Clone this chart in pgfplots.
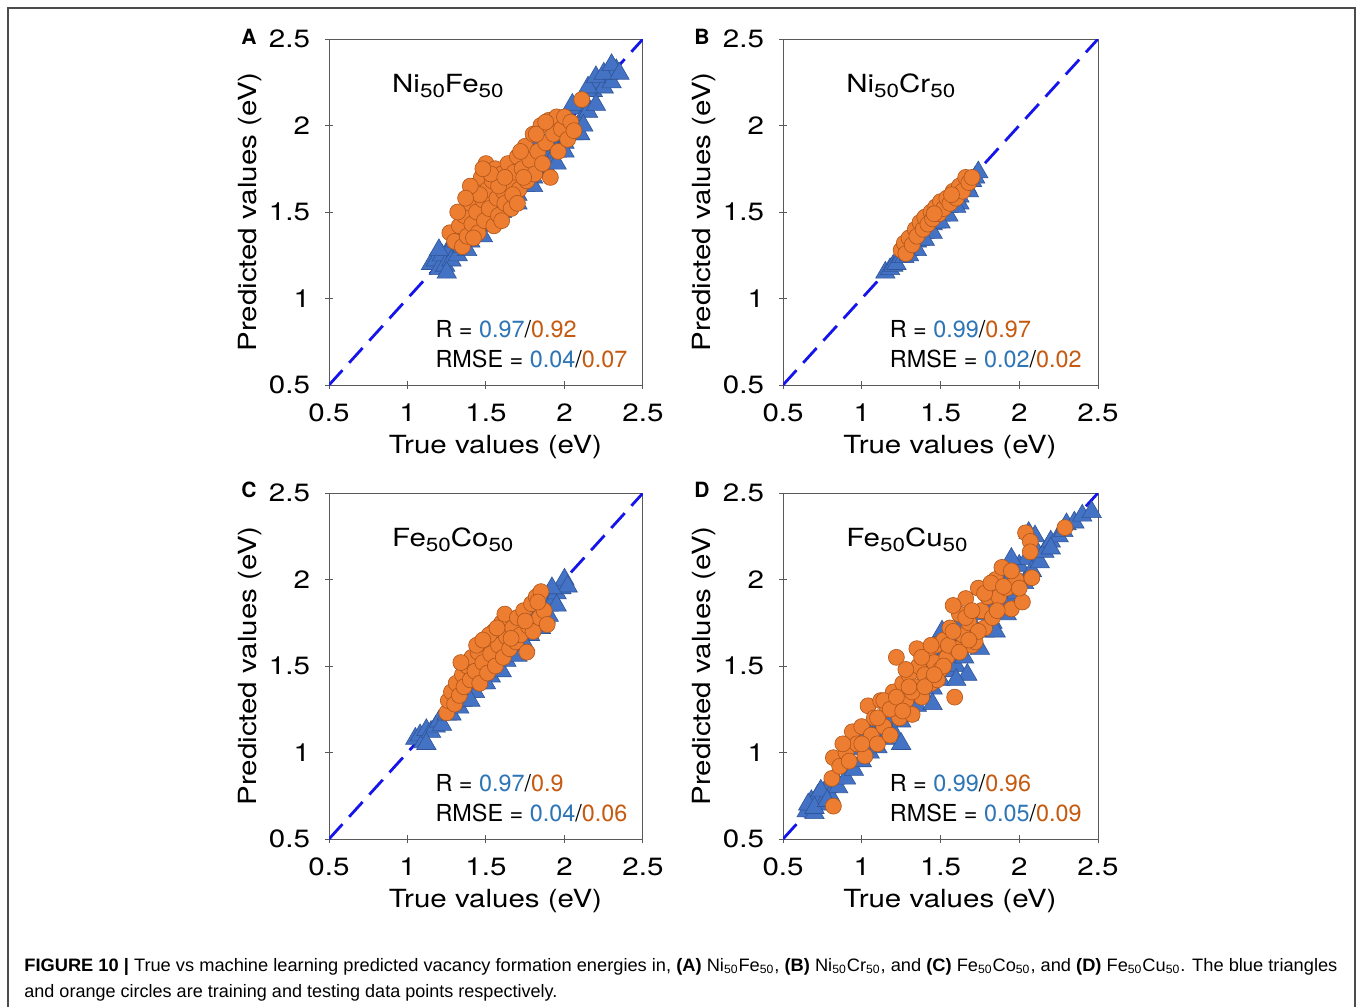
\documentclass[border=0pt]{standalone}
\usepackage{fontspec}
\setmainfont{TeX Gyre Heros}
\newfontfamily\figfont{TeX Gyre Heros}[FakeStretch=1.18]
\newfontfamily\capfont{Liberation Sans}
\usepackage{graphicx}
\usepackage{pgfplots}
\pgfplotsset{compat=1.18}
\definecolor{triblue}{RGB}{68,114,196}
\definecolor{triedge}{RGB}{47,85,151}
\definecolor{cirorange}{RGB}{237,125,49}
\definecolor{ciredge}{RGB}{175,85,25}
\definecolor{txtblue}{RGB}{46,117,182}
\definecolor{txtorange}{RGB}{197,90,17}
\definecolor{lineblue}{RGB}{20,20,235}
\pgfplotsset{
 panel/.style={
  scale only axis, width=157pt, height=173pt,
  xmin=0.5,xmax=2.5,ymin=0.5,ymax=2.5,
  xtick={0.5,1,1.5,2,2.5}, ytick={0.5,1,1.5,2,2.5},
  xtick pos=left, ytick pos=left,
  tick align=center, major tick length=4pt,
  axis line style={draw=gray!70!black, line width=0.5pt},
  every tick/.style={draw=gray!70!black, line width=0.5pt},
  /pgf/number format/assume math mode=true,
  ticklabel style={font=\figfont\fontsize{12.5}{14}\selectfont},
  xticklabel style={yshift=-4pt},
  yticklabel style={xshift=-4pt},
  xlabel={True values (eV)}, ylabel={Predicted values (eV)},
  every axis x label/.style={at={(axis description cs:0.53,-0.18)}, anchor=center, font=\figfont\fontsize{12.5}{14}\selectfont},
  every axis y label/.style={at={(axis description cs:-0.252,0.5)}, anchor=center, rotate=90, font=\figfont\fontsize{12.5}{14}\selectfont},
 },
 tri/.style={only marks, mark=triangle*, mark size=5.6pt, mark options={fill=triblue, draw=triedge, line width=0.3pt}},
 cir/.style={only marks, mark=*, mark size=4pt, mark options={fill=cirorange, draw=ciredge, line width=0.3pt}},
 diag/.style={lineblue, line width=1.4pt, dash pattern=on 10pt off 5pt},
}
\newcommand{\sub}[1]{\raisebox{-0.35ex}{\fontsize{9.5}{10}\selectfont #1}}
\newcommand{\ptitle}[1]{\node[anchor=base west, inner sep=0, font=\figfont\fontsize{12.5}{14}\selectfont] at (rel axis cs:0.2,0.844) {#1};}
\newcommand{\stats}[4]{%
 \node[anchor=base west, inner sep=0, font=\fontsize{11.7}{14}\selectfont] at (rel axis cs:0.338,0.136) {R = \textcolor{txtblue}{#1}/\textcolor{txtorange}{#2}};
 \node[anchor=base west, inner sep=0, font=\fontsize{11.7}{14}\selectfont] at (rel axis cs:0.338,0.052) {RMSE = \textcolor{txtblue}{#3}/\textcolor{txtorange}{#4}};}
\begin{document}
\begin{tikzpicture}
\useasboundingbox (0,0) rectangle (678.5pt,-503.5pt);
\fill[white] (0,0) rectangle (678.5pt,-503.5pt);
\draw[gray!60!black, line width=0.75pt] (4pt,-4pt) rectangle (677.5pt,-520pt);

% Panel A
\begin{axis}[panel, at={(164.5pt,-192.5pt)}, anchor=south west]
\addplot[tri] coordinates {(1.15,1.20)(1.18,1.22)(1.20,1.17)(1.22,1.25)(1.24,1.19)(1.26,1.28)(1.28,1.22)(1.30,1.33)(1.32,1.25)(1.35,1.30)(1.37,1.40)(1.40,1.33)(1.42,1.45)(1.45,1.38)(1.47,1.50)(1.50,1.42)(1.52,1.55)(1.55,1.47)(1.57,1.60)(1.60,1.50)(1.62,1.63)(1.65,1.55)(1.67,1.68)(1.70,1.60)(1.72,1.73)(1.75,1.65)(1.77,1.78)(1.80,1.70)(1.82,1.83)(1.85,1.75)(1.87,1.88)(1.90,1.80)(1.92,1.93)(1.95,1.85)(1.97,1.98)(2.00,1.90)(2.02,2.03)(2.05,1.95)(2.08,2.10)(2.10,2.02)(2.12,2.15)(2.15,2.08)(2.18,2.20)(2.20,2.12)(2.22,2.25)(2.25,2.22)(2.28,2.30)(2.30,2.25)(2.33,2.32)(1.35,1.42)(1.45,1.55)(1.55,1.62)(1.65,1.72)(1.75,1.82)(1.85,1.92)(1.95,2.02)(2.05,2.12)(1.38,1.28)(1.48,1.36)(1.58,1.46)(1.68,1.56)(1.78,1.66)(1.88,1.76)(1.98,1.86)(2.08,1.98)(2.15,2.22)(2.20,2.28)(2.25,2.30)(2.30,2.35)(2.35,2.30)(1.20,1.28)(1.25,1.15)(1.95,1.78)(2.00,1.85)(2.10,1.95)(2.12,2.00)(1.70,1.55)(1.80,1.65)};
\addplot[cir] coordinates {(1.27,1.38)(1.30,1.33)(1.33,1.42)(1.35,1.30)(1.36,1.48)(1.38,1.36)(1.40,1.55)(1.41,1.43)(1.43,1.62)(1.44,1.50)(1.45,1.38)(1.47,1.70)(1.48,1.57)(1.49,1.45)(1.50,1.78)(1.51,1.63)(1.52,1.52)(1.54,1.68)(1.55,1.42)(1.56,1.75)(1.57,1.58)(1.58,1.48)(1.60,1.72)(1.61,1.62)(1.62,1.55)(1.64,1.78)(1.65,1.66)(1.66,1.52)(1.68,1.73)(1.70,1.82)(1.71,1.63)(1.73,1.75)(1.75,1.88)(1.76,1.68)(1.78,1.80)(1.80,1.95)(1.81,1.72)(1.83,1.85)(1.85,2.00)(1.86,1.78)(1.88,1.90)(1.90,2.03)(1.91,1.70)(1.93,1.95)(1.95,2.05)(1.96,1.85)(1.98,1.98)(2.00,2.05)(2.02,1.92)(2.04,2.02)(2.06,1.97)(2.11,2.15)(1.58,1.65)(1.46,1.60)(1.53,1.72)(1.67,1.60)(1.74,1.70)(1.32,1.50)(1.40,1.65)(1.48,1.75)(1.62,1.70)(1.72,1.85)(1.82,1.95)(1.88,2.02)(1.60,1.45)(1.70,1.55)(1.42,1.35)(1.37,1.58)};
\addplot[diag] coordinates {(0.5,0.5)(2.5,2.5)};
\ptitle{Ni\sub{50}Fe\sub{50}}
\stats{0.97}{0.92}{0.04}{0.07}
\end{axis}

% Panel B
\begin{axis}[panel, at={(391.5pt,-192.5pt)}, anchor=south west, width=157.5pt]
\addplot[tri] coordinates {(1.15,1.15)(1.18,1.17)(1.20,1.19)(1.22,1.20)(1.25,1.24)(1.27,1.24)(1.30,1.28)(1.32,1.29)(1.35,1.33)(1.37,1.34)(1.40,1.38)(1.42,1.39)(1.45,1.43)(1.47,1.44)(1.50,1.48)(1.52,1.49)(1.55,1.53)(1.57,1.54)(1.60,1.58)(1.62,1.59)(1.65,1.63)(1.67,1.64)(1.70,1.68)(1.72,1.70)(1.74,1.73)(1.35,1.28)(1.45,1.38)(1.55,1.48)(1.62,1.55)(1.68,1.62)(1.40,1.34)(1.50,1.44)(1.60,1.53)(1.30,1.25)};
\addplot[cir] coordinates {(1.25,1.28)(1.27,1.32)(1.28,1.26)(1.30,1.35)(1.32,1.31)(1.34,1.40)(1.35,1.36)(1.37,1.44)(1.39,1.40)(1.40,1.47)(1.42,1.43)(1.44,1.50)(1.45,1.46)(1.47,1.53)(1.49,1.49)(1.50,1.56)(1.52,1.52)(1.54,1.58)(1.56,1.55)(1.58,1.62)(1.60,1.58)(1.62,1.65)(1.64,1.62)(1.66,1.70)(1.68,1.67)(1.70,1.70)(1.57,1.60)(1.46,1.49)};
\addplot[diag] coordinates {(0.5,0.5)(2.5,2.5)};
\ptitle{Ni\sub{50}Cr\sub{50}}
\stats{0.99}{0.97}{0.02}{0.02}
\end{axis}

% Panel C
\begin{axis}[panel, at={(164.5pt,-419.5pt)}, anchor=south west]
\addplot[tri] coordinates {(1.05,1.08)(1.08,1.10)(1.10,1.06)(1.12,1.13)(1.15,1.12)(1.18,1.15)(1.20,1.18)(1.22,1.16)(1.25,1.22)(1.28,1.22)(1.30,1.27)(1.33,1.26)(1.35,1.30)(1.38,1.31)(1.40,1.35)(1.43,1.35)(1.45,1.40)(1.48,1.40)(1.50,1.45)(1.53,1.44)(1.55,1.50)(1.58,1.48)(1.60,1.55)(1.63,1.53)(1.65,1.60)(1.68,1.58)(1.70,1.65)(1.73,1.63)(1.75,1.70)(1.78,1.68)(1.80,1.75)(1.83,1.73)(1.85,1.80)(1.88,1.78)(1.90,1.85)(1.93,1.88)(1.95,1.92)(1.98,1.95)(2.00,2.00)(2.02,1.96)(1.90,1.79)(1.60,1.47)(1.70,1.56)(1.40,1.30)(1.50,1.40)(1.95,1.85)(1.92,1.95)(1.85,1.72)(1.75,1.62)(1.12,1.05)};
\addplot[cir] coordinates {(1.25,1.23)(1.26,1.30)(1.28,1.35)(1.30,1.28)(1.31,1.40)(1.33,1.33)(1.35,1.45)(1.36,1.38)(1.38,1.50)(1.40,1.42)(1.41,1.55)(1.43,1.47)(1.45,1.58)(1.46,1.40)(1.48,1.52)(1.50,1.63)(1.51,1.46)(1.53,1.57)(1.55,1.70)(1.56,1.50)(1.58,1.62)(1.60,1.75)(1.61,1.55)(1.63,1.67)(1.62,1.80)(1.65,1.60)(1.67,1.72)(1.69,1.64)(1.70,1.78)(1.72,1.68)(1.74,1.82)(1.76,1.58)(1.77,1.73)(1.79,1.86)(1.80,1.70)(1.82,1.90)(1.84,1.78)(1.85,1.93)(1.87,1.82)(1.89,1.74)(1.83,1.87)(1.52,1.68)(1.44,1.62)(1.34,1.52)(1.48,1.65)(1.57,1.72)(1.66,1.66)(1.75,1.76)};
\addplot[diag] coordinates {(0.5,0.5)(2.5,2.5)};
\ptitle{Fe\sub{50}Co\sub{50}}
\stats{0.97}{0.9}{0.04}{0.06}
\end{axis}

% Panel D
\begin{axis}[panel, at={(391.5pt,-419.5pt)}, anchor=south west, width=157.5pt]
\addplot[tri] coordinates {(0.65,0.66)(0.68,0.72)(0.70,0.65)(0.72,0.75)(0.75,0.70)(0.78,0.80)(0.80,0.75)(0.83,0.85)(0.85,0.80)(0.88,0.92)(0.90,0.85)(0.93,0.95)(0.95,0.90)(0.98,1.02)(1.00,0.95)(1.03,1.08)(1.05,1.00)(1.08,1.12)(1.10,1.03)(1.13,1.18)(1.15,1.08)(1.18,1.20)(1.20,1.12)(1.23,1.28)(1.25,1.18)(1.28,1.30)(1.30,1.22)(1.33,1.36)(1.35,1.27)(1.38,1.40)(1.40,1.32)(1.43,1.48)(1.45,1.37)(1.48,1.52)(1.50,1.42)(1.53,1.58)(1.55,1.47)(1.58,1.62)(1.60,1.50)(1.63,1.68)(1.65,1.55)(1.67,1.45)(1.70,1.75)(1.72,1.62)(1.75,1.80)(1.78,1.70)(1.80,1.85)(1.83,1.75)(1.85,1.92)(1.88,1.82)(1.90,1.98)(1.93,1.88)(1.95,2.02)(1.98,1.92)(2.00,2.08)(2.03,1.98)(2.05,2.12)(2.08,2.05)(2.10,2.18)(2.13,2.10)(2.16,2.16)(2.20,2.22)(2.25,2.25)(2.30,2.32)(2.35,2.33)(2.40,2.37)(2.46,2.39)(2.06,2.27)(1.51,1.70)(1.40,1.55)(1.25,1.05)(1.00,1.12)(1.85,1.70)(1.45,1.28)(0.66,0.70)(0.70,0.68)(0.74,0.78)(0.78,0.72)(2.10,2.25)(2.20,2.18)(2.28,2.28)(1.92,1.80)(1.60,1.42)(1.75,1.60)(1.95,2.12)(1.62,1.75)(1.30,1.40)(1.20,1.30)(1.10,1.18)};
\addplot[cir] coordinates {(0.82,0.69)(0.81,0.85)(0.82,0.97)(0.86,0.92)(0.90,1.00)(0.94,1.12)(0.97,1.05)(1.00,1.15)(1.02,0.98)(1.04,1.27)(1.06,1.10)(1.08,1.20)(1.10,1.05)(1.12,1.30)(1.14,1.15)(1.16,1.25)(1.18,1.10)(1.20,1.35)(1.22,1.55)(1.24,1.20)(1.26,1.40)(1.28,1.30)(1.30,1.45)(1.32,1.22)(1.34,1.38)(1.36,1.50)(1.38,1.32)(1.40,1.45)(1.42,1.58)(1.44,1.40)(1.46,1.52)(1.47,1.62)(1.50,1.48)(1.52,1.65)(1.54,1.55)(1.56,1.72)(1.59,1.32)(1.60,1.60)(1.62,1.80)(1.64,1.68)(1.66,1.89)(1.68,1.75)(1.70,1.62)(1.72,1.64)(1.74,1.95)(1.76,1.82)(1.78,1.72)(1.80,1.90)(1.83,1.78)(1.85,2.00)(1.87,1.90)(1.89,2.07)(1.92,1.95)(1.95,1.83)(1.98,2.00)(2.02,1.87)(2.04,2.27)(2.07,2.22)(2.07,2.16)(2.08,2.01)(2.29,2.30)(1.58,1.85)(1.35,1.60)(1.28,1.48)(1.32,1.35)(1.38,1.55)(1.44,1.62)(1.48,1.42)(1.52,1.50)(1.55,1.62)(1.58,1.70)(1.62,1.58)(1.66,1.78)(1.70,1.82)(1.74,1.70)(1.78,1.92)(1.82,1.98)(1.86,1.82)(1.90,1.96)(0.88,1.05)(0.92,0.95)(1.00,1.05)(1.10,1.20)(1.14,1.30)(1.18,1.25)(1.22,1.32)(1.26,1.24)(1.30,1.38)(1.40,1.38)(1.46,1.45)(1.95,2.05)(2.00,1.95)(1.68,1.65)};
\addplot[diag] coordinates {(0.5,0.5)(2.5,2.5)};
\ptitle{Fe\sub{50}Cu\sub{50}}
\stats{0.99}{0.96}{0.05}{0.09}
\end{axis}

% panel letters
\node[font=\bfseries\fontsize{10.5}{12}\selectfont] at (124.5pt,-18.5pt) {A};
\node[font=\bfseries\fontsize{10.5}{12}\selectfont] at (351pt,-18.5pt) {B};
\node[font=\bfseries\fontsize{10.5}{12}\selectfont] at (124.5pt,-245pt) {C};
\node[font=\bfseries\fontsize{10.5}{12}\selectfont] at (351pt,-245pt) {D};

% caption
\node[anchor=base west, inner sep=0] at (12pt,-485.5pt) {\resizebox{656.5pt}{\height}{\capfont\fontsize{9}{11}\selectfont\textbf{FIGURE 10 |} True vs machine learning predicted vacancy formation energies in, \textbf{(A)} Ni\textsubscript{50}Fe\textsubscript{50}, \textbf{(B)} Ni\textsubscript{50}Cr\textsubscript{50}, and \textbf{(C)} Fe\textsubscript{50}Co\textsubscript{50}, and \textbf{(D)} Fe\textsubscript{50}Cu\textsubscript{50}. The blue triangles}};
\node[anchor=base west, inner sep=0] at (12pt,-498.5pt) {\resizebox{266.5pt}{\height}{\capfont\fontsize{9}{11}\selectfont and orange circles are training and testing data points respectively.}};
\end{tikzpicture}
\end{document}
